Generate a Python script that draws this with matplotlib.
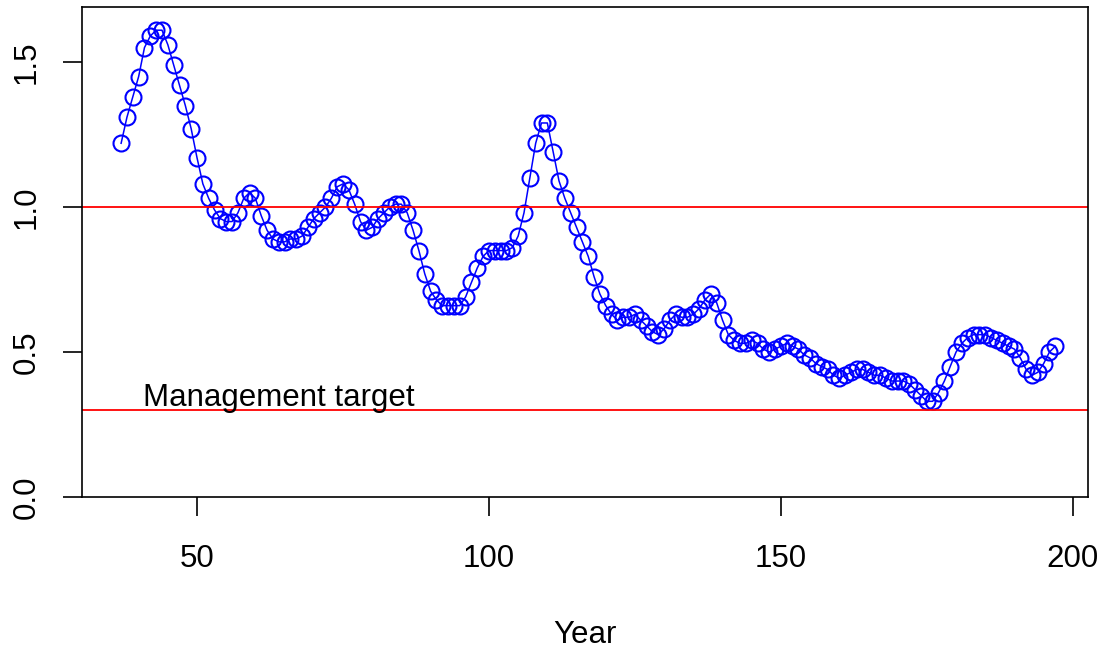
import numpy as np
import matplotlib
matplotlib.use("Agg")
import matplotlib.pyplot as plt

plt.rcParams["font.family"] = ["Liberation Sans", "DejaVu Sans"]

years = np.arange(37, 198)
ratio = [
    1.22, 1.31, 1.38, 1.45, 1.55, 1.59, 1.61, 1.61, 1.56, 1.49,
    1.42, 1.35, 1.27, 1.17, 1.08, 1.03, 0.99, 0.96, 0.95, 0.95,
    0.98, 1.03, 1.05, 1.03, 0.97, 0.92, 0.89, 0.88, 0.88, 0.89,
    0.89, 0.90, 0.93, 0.96, 0.98, 1.00, 1.03, 1.07, 1.08, 1.06,
    1.01, 0.95, 0.92, 0.93, 0.96, 0.98, 1.00, 1.01, 1.01, 0.98,
    0.92, 0.85, 0.77, 0.71, 0.68, 0.66, 0.66, 0.66, 0.66, 0.69,
    0.74, 0.79, 0.83, 0.85, 0.85, 0.85, 0.85, 0.86, 0.90, 0.98,
    1.10, 1.22, 1.29, 1.29, 1.19, 1.09, 1.03, 0.98, 0.93, 0.88,
    0.83, 0.76, 0.70, 0.66, 0.63, 0.61, 0.62, 0.62, 0.63, 0.61,
    0.59, 0.57, 0.56, 0.58, 0.61, 0.63, 0.62, 0.62, 0.63, 0.65,
    0.68, 0.70, 0.67, 0.61, 0.56, 0.54, 0.53, 0.53, 0.54, 0.53,
    0.51, 0.50, 0.51, 0.52, 0.53, 0.52, 0.51, 0.49, 0.48, 0.46,
    0.45, 0.44, 0.42, 0.41, 0.42, 0.43, 0.44, 0.44, 0.43, 0.42,
    0.42, 0.41, 0.40, 0.40, 0.40, 0.39, 0.37, 0.35, 0.33, 0.33,
    0.36, 0.40, 0.45, 0.50, 0.53, 0.55, 0.56, 0.56, 0.56, 0.55,
    0.54, 0.53, 0.52, 0.51, 0.48, 0.44, 0.42, 0.43, 0.46, 0.50,
    0.52,
]
ref_lines = [1.0, 0.3]
xticks = [50, 100, 150, 200]
yticks = [0.0, 0.5, 1.0, 1.5]

fig = plt.figure(figsize=(11.02, 6.49), dpi=100)
ax = fig.add_axes([82 / 1102, 1 - 497 / 649, (1088 - 82) / 1102, (497 - 7) / 649])

ax.plot(years, ratio, color="blue", lw=1.1, marker="o", markersize=11.5,
        markerfacecolor="none", markeredgecolor="blue", markeredgewidth=1.5)
for h in ref_lines:
    ax.axhline(h, color="red", lw=1.3)
ax.text(40.7, 0.34, "Management target", fontsize=22.5, ha="left", va="center")

ax.set_xlim(30.3, 202.6)
ax.set_ylim(0, 1.69)
ax.set_xticks(xticks)
ax.set_yticks(yticks)
ax.set_yticklabels([f"{v:.1f}" for v in yticks], rotation=90, va="center")
ax.tick_params(axis="both", direction="out", length=14, width=1.2, labelsize=22.5)
ax.tick_params(axis="x", pad=20)
ax.tick_params(axis="y", pad=15)
ax.set_xlabel("Year", fontsize=22.5, labelpad=33)
for s in ax.spines.values():
    s.set_linewidth(1.2)

fig.savefig("out.png", dpi=100)
